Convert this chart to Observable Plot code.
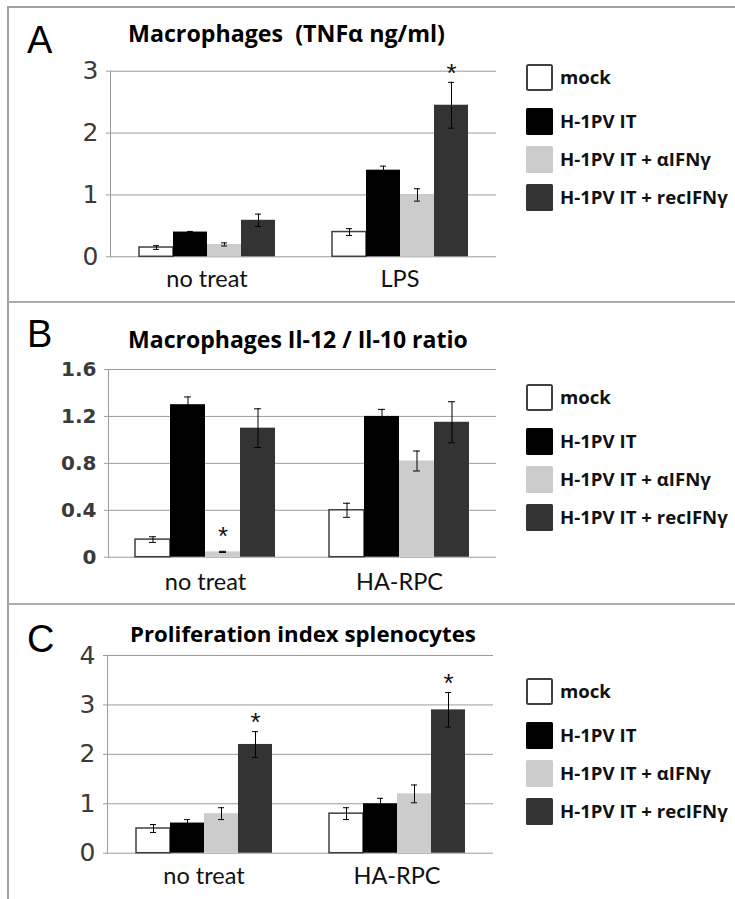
<!DOCTYPE html>
<html>
<head>
<meta charset="utf-8">
<script src="https://cdn.jsdelivr.net/npm/d3@7"></script>
<script src="https://cdn.jsdelivr.net/npm/@observablehq/plot@0.6"></script>
<style>
  html, body { margin: 0; padding: 0; background: #fff; }
  #page { position: relative; width: 735px; height: 899px; overflow: hidden; background: #fff; }
  .frame { position: absolute; left: 7px; top: 6px; width: 800px; height: 1000px;
           border-left: 2.5px solid #a0a0a0; border-top: 2.5px solid #a0a0a0; box-sizing: border-box; }
  .sep { position: absolute; left: 8px; width: 740px; height: 2px; background: #acacac; }
  .plotbox { position: absolute; left: 0; }
  .plotbox svg { overflow: visible; }
  #overlay { position: absolute; left: 0; top: 0; pointer-events: none; }
</style>
</head>
<body>
<div id="page">
  <div class="frame"></div>
  <div class="sep" style="top:301px"></div>
  <div class="sep" style="top:603px"></div>
</div>
<script>
// ---------- data ----------
const seriesNames = ["mock", "H-1PV IT", "H-1PV IT + αIFNγ", "H-1PV IT + recIFNγ"];
const seriesColors = ["#ffffff", "#000000", "#cccccc", "#333333"];

const titleA = "Macrophages  (TNFα ng/ml)";
const groupsA = ["no treat", "LPS"];
const valuesA = [[0.15, 0.40, 0.20, 0.59], [0.40, 1.40, 1.00, 2.45]];
const errorsA = [[0.03, 0.01, 0.025, 0.10], [0.055, 0.065, 0.10, 0.37]];
const starsA = [["LPS", "H-1PV IT + recIFNγ"]];
const ticksA = [0, 1, 2, 3];

const titleB = "Macrophages Il-12 / Il-10 ratio";
const groupsB = ["no treat", "HA-RPC"];
const valuesB = [[0.15, 1.30, 0.045, 1.10], [0.40, 1.20, 0.82, 1.15]];
const errorsB = [[0.024, 0.066, 0.005, 0.165], [0.06, 0.06, 0.085, 0.175]];
const starsB = [["no treat", "H-1PV IT + αIFNγ"]];
const ticksB = [0, 0.4, 0.8, 1.2, 1.6];

const titleC = "Proliferation index splenocytes";
const groupsC = ["no treat", "HA-RPC"];
const valuesC = [[0.50, 0.61, 0.80, 2.20], [0.80, 1.00, 1.20, 2.90]];
const errorsC = [[0.08, 0.07, 0.12, 0.26], [0.12, 0.11, 0.18, 0.35]];
const starsC = [["no treat", "H-1PV IT + recIFNγ"], ["HA-RPC", "H-1PV IT + recIFNγ"]];
const ticksC = [0, 1, 2, 3, 4];

// ---------- layout ----------
const panels = [
  {letter: "A", title: titleA, groups: groupsA, values: valuesA, errors: errorsA, stars: starsA, ticks: ticksA,
   top: 0, height: 300, marginTop: 70.7, marginBottom: 43.7, marginLeft: 110, right: 496,
   yFont: {fontFamily: "DejaVu Sans", fontSize: 25, fontWeight: "normal"}, fxPad: 14, starDy: -9,
   letterY: 53, titleX: 128, titleY: 42, titleWidth: 317, legendTop: 64},
  {letter: "B", title: titleB, groups: groupsB, values: valuesB, errors: errorsB, stars: starsB, ticks: ticksB,
   top: 302, height: 300, marginTop: 67, marginBottom: 45.3, marginLeft: 108, right: 496,
   yFont: {fontFamily: "DejaVu Sans", fontSize: 20, fontWeight: "bold"}, fxPad: 16.5, starDy: -15,
   letterY: 347, titleX: 128, titleY: 348, titleWidth: 340, legendTop: 384},
  {letter: "C", title: titleC, groups: groupsC, values: valuesC, errors: errorsC, stars: starsC, ticks: ticksC,
   top: 604, height: 295, marginTop: 51, marginBottom: 46.3, marginLeft: 107, right: 493,
   yFont: {fontFamily: "DejaVu Sans", fontSize: 25, fontWeight: "normal"}, fxPad: 14.5, starDy: -9,
   letterY: 652, titleX: 130, titleY: 642, titleWidth: 346, legendTop: 678}
];
const legendOffsets = [0, 44, 82, 120];
const legendWidestText = 168;
const plotWidth = 520;
const page = document.getElementById("page");

function buildRows(p) {
  const rows = [];
  p.groups.forEach((g, gi) => seriesNames.forEach((s, si) => {
    rows.push({group: g, series: s, value: p.values[gi][si], err: p.errors[gi][si], color: seriesColors[si]});
  }));
  return rows;
}

for (const p of panels) {
  const rows = buildRows(p);
  const starRows = p.stars.map(([g, s]) => rows.find(r => r.group === g && r.series === s));
  const chart = Plot.plot({
    width: plotWidth,
    height: p.height,
    marginTop: p.marginTop,
    marginBottom: p.marginBottom,
    marginLeft: p.marginLeft,
    marginRight: plotWidth - p.right,
    style: {fontFamily: "Lato", background: "transparent", overflow: "visible"},
    fx: {domain: p.groups, padding: 0, label: null},
    x: {domain: seriesNames, paddingInner: 0, paddingOuter: 0.76, axis: null},
    y: {domain: [0, p.ticks[p.ticks.length - 1]]},
    color: {type: "identity"},
    marks: [
      Plot.ruleY(p.ticks, {stroke: "#9c9c9c", strokeWidth: 1}),
      Plot.frame({anchor: "left", facetAnchor: "left", stroke: "#9c9c9c", strokeWidth: 1}),
      Plot.axisY({ticks: p.ticks, tickSize: 4, tickPadding: 8, label: null, tickFormat: d3.format(""),
                  stroke: "#9c9c9c", fill: "#3a3a3a", ...p.yFont}),
      Plot.axisFx({anchor: "bottom", tickSize: 0, tickPadding: p.fxPad, label: null,
                   fontSize: 23.5, fontFamily: "Lato", fill: "#111"}),
      Plot.barY(rows, {fx: "group", x: "series", y: "value", fill: "color",
                       stroke: d => d.series === "mock" ? "#404040" : "none", strokeWidth: 1.5}),
      Plot.ruleX(rows, {fx: "group", x: "series", y1: d => d.value - d.err, y2: d => d.value + d.err,
                        stroke: "#000", strokeWidth: 1}),
      Plot.tickY(rows, {fx: "group", x: "series", y: d => d.value + d.err, insetLeft: 14, insetRight: 14, stroke: "#000"}),
      Plot.tickY(rows, {fx: "group", x: "series", y: d => d.value - d.err, insetLeft: 14, insetRight: 14, stroke: "#000"}),
      Plot.text(starRows, {fx: "group", x: "series", y: d => d.value + d.err, text: () => "*",
                           dy: p.starDy, fontSize: 26, fontFamily: "Liberation Sans", lineAnchor: "middle", fill: "#111"})
    ]
  });
  const box = document.createElement("div");
  box.className = "plotbox";
  box.style.top = p.top + "px";
  box.appendChild(chart);
  page.appendChild(box);
}

// ---------- overlay: letters, titles, legends ----------
const svg = d3.select(page).append("svg").attr("id", "overlay").attr("width", 735).attr("height", 899);
function fitText(sel, target, base) {
  sel.attr("font-size", base);
  const len = sel.node().getComputedTextLength();
  const size = len > 0 ? base * target / len : base;
  sel.attr("font-size", size);
  return size;
}
// legend font size from widest entry
const probe = svg.append("text").attr("font-family", "Open Sans").attr("font-weight", "bold").text(seriesNames[3]);
const legendSize = fitText(probe, legendWidestText, 17);
probe.remove();

for (const p of panels) {
  svg.append("text").attr("x", 27).attr("y", p.letterY).attr("font-family", "Liberation Sans")
    .attr("font-size", 38).attr("fill", "#000").text(p.letter);
  const t = svg.append("text").attr("x", p.titleX).attr("y", p.titleY).attr("font-family", "Open Sans")
    .attr("font-weight", "bold").attr("fill", "#000")
    .attr("xml:space", "preserve").style("white-space", "pre").text(p.title);
  fitText(t, p.titleWidth, 22);
  const lg = svg.append("g");
  seriesNames.forEach((s, i) => {
    const y = p.legendTop + legendOffsets[i];
    lg.append("rect").attr("x", i === 0 ? 527 : 526).attr("y", i === 0 ? y + 1 : y)
      .attr("width", i === 0 ? 25 : 27).attr("height", i === 0 ? 25 : 27).attr("rx", 1.5)
      .attr("fill", seriesColors[i]).attr("stroke", i === 0 ? "#404040" : "none").attr("stroke-width", 2);
    lg.append("text").attr("x", 560).attr("y", y + 13.5 + 6.5).attr("font-family", "Open Sans")
      .attr("font-weight", "bold").attr("font-size", legendSize).attr("fill", "#111").text(s);
  });
}
</script>
</body>
</html>
